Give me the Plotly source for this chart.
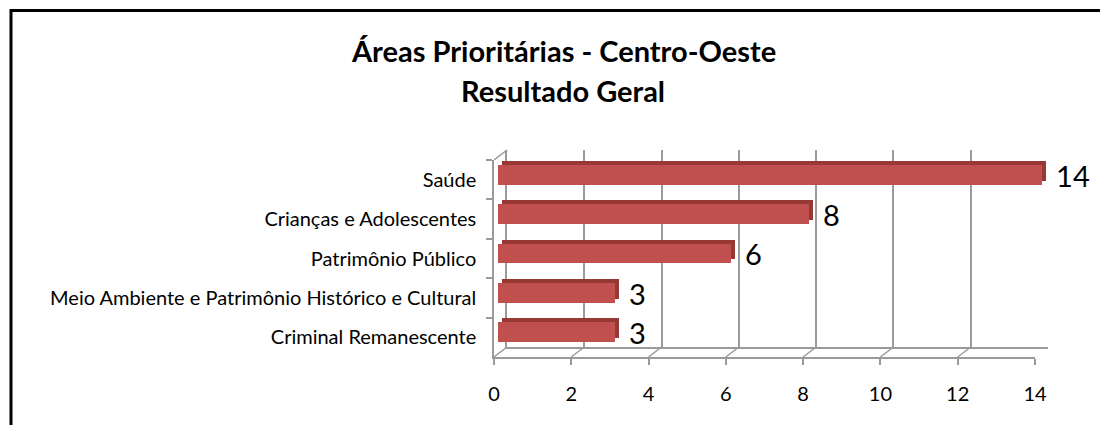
import plotly.graph_objects as go

### Dados ###

areas = ["Saúde", "Crianças e Adolescentes", "Patrimônio Público",
         "Meio Ambiente e Patrimônio Histórico e Cultural", "Criminal Remanescente"]
quantidades = [14, 8, 6, 3, 3]
x_ticks = [0, 2, 4, 6, 8, 10, 12, 14]

titulo_1 = "Áreas Prioritárias - Centro-Oeste"
titulo_2 = "Resultado Geral"

W, H = 1100, 425
FONT = "Lato"
GRID = "#9a9a9a"
FACE = "#C0504D"
DEPTH = "#983835"


def px_x(a, b):  # pixel span -> paper domain (x)
    return [a / W, b / W]


def px_y(top, bottom):  # pixel span -> paper domain (y)
    return [1 - bottom / H, 1 - top / H]


# front plane / back wall (3d look)
front_x, front_y = (494, 1035), (160, 357)
dx, dy = 13, 10
back_x = (front_x[0] + dx, front_x[1] + dx)
back_y = (front_y[0] - dy, front_y[1] - dy)
face_x, face_y = (498, 1042), (155, 352)
depth_x, depth_y = (502, 1046), (151, 348)

cat_range = [len(areas) - 0.5, -0.5]

fig = go.Figure()

# back wall (gridlines only)
fig.add_trace(go.Scatter(x=[None], y=[None], xaxis="x", yaxis="y", showlegend=False, hoverinfo="skip"))
# bar depth (top / side faces)
fig.add_trace(go.Bar(x=quantidades, y=areas, orientation="h", width=0.5, xaxis="x2", yaxis="y2",
                     marker=dict(color=DEPTH, line=dict(width=0)), showlegend=False, hoverinfo="skip"))
# bar front faces + labels
fig.add_trace(go.Bar(x=quantidades, y=areas, orientation="h", width=0.5, xaxis="x3", yaxis="y3",
                     marker=dict(color=FACE, line=dict(width=0)), showlegend=False,
                     text=quantidades, texttemplate=" \u2009%{x}", textposition="outside",
                     textfont=dict(family=FONT, size=29, color="black"),
                     cliponaxis=False, constraintext="none"))
# front axes
fig.add_trace(go.Scatter(x=[None], y=[None], xaxis="x4", yaxis="y4", showlegend=False, hoverinfo="skip"))

hidden = dict(visible=False, fixedrange=True)

fig.update_layout(
    width=W, height=H,
    margin=dict(l=0, r=0, t=0, b=0, autoexpand=False),
    paper_bgcolor="white",
    plot_bgcolor="rgba(0,0,0,0)",
    font=dict(family=FONT, color="black"),
    bargap=0,
    xaxis=dict(domain=px_x(*back_x), range=[0, 14], dtick=2, showgrid=True, gridcolor=GRID,
               gridwidth=1.5, zeroline=False, showline=True, linecolor=GRID, linewidth=1.5,
               showticklabels=False, anchor="y", automargin=False),
    yaxis=dict(domain=px_y(*back_y), type="category", categoryarray=areas, range=cat_range,
               showgrid=False, zeroline=False, showline=True, linecolor=GRID, linewidth=1.5,
               showticklabels=False, anchor="x", automargin=False),
    xaxis2=dict(domain=px_x(*depth_x), range=[0, 14], anchor="y2", **hidden),
    yaxis2=dict(domain=px_y(*depth_y), type="category", categoryarray=areas, range=cat_range,
                anchor="x2", **hidden),
    xaxis3=dict(domain=px_x(*face_x), range=[0, 14], anchor="y3", **hidden),
    yaxis3=dict(domain=px_y(*face_y), type="category", categoryarray=areas, range=cat_range,
                anchor="x3", **hidden),
    xaxis4=dict(domain=px_x(*front_x), range=[0, 14], tickvals=x_ticks, ticks="outside", ticklen=6,
                tickcolor=GRID, tickwidth=1.5, showgrid=False, zeroline=False, showline=True,
                linecolor=GRID, linewidth=1.5, tickfont=dict(family=FONT, size=20, color="black"),
                ticklabelstandoff=12, anchor="y4", automargin=False),
    yaxis4=dict(domain=px_y(*front_y), type="category", categoryarray=areas, range=cat_range,
                tickson="boundaries", ticks="outside", ticklen=6, tickcolor=GRID, tickwidth=1.5,
                showgrid=False, zeroline=False, showline=True, linecolor=GRID, linewidth=1.5,
                tickfont=dict(family=FONT, size=20, color="black"), ticklabelstandoff=12,
                anchor="x4", automargin=False),
)

# floor / side wall diagonals, anchored at the axis values
shapes = []
for v in x_ticks:
    shapes.append(dict(type="line", xref="x4", yref="paper",
                       xsizemode="pixel", xanchor=v, x0=0, x1=dx,
                       ysizemode="pixel", yanchor=1 - front_y[1] / H, y0=0, y1=dy,
                       line=dict(color=GRID, width=1.5), layer="below"))
shapes.append(dict(type="line", xref="x4", yref="paper",
                   xsizemode="pixel", xanchor=0, x0=0, x1=dx,
                   ysizemode="pixel", yanchor=1 - front_y[0] / H, y0=0, y1=dy,
                   line=dict(color=GRID, width=1.5), layer="below"))
# chart frame
shapes.append(dict(type="line", xref="paper", yref="paper", x0=10 / W, x1=1, y0=1 - 10.5 / H, y1=1 - 10.5 / H,
                   line=dict(color="black", width=3)))
shapes.append(dict(type="line", xref="paper", yref="paper", x0=11 / W, x1=11 / W, y0=0, y1=1 - 9 / H,
                   line=dict(color="black", width=3)))
fig.update_layout(shapes=shapes)

fig.add_annotation(text="<b>" + titulo_1 + "</b>", x=563 / W, y=1 - 50 / H, xref="paper", yref="paper",
                   xanchor="center", yanchor="middle", showarrow=False,
                   font=dict(family=FONT, size=29, color="black"))
fig.add_annotation(text="<b>" + titulo_2 + "</b>", x=563 / W, y=1 - 90 / H, xref="paper", yref="paper",
                   xanchor="center", yanchor="middle", showarrow=False,
                   font=dict(family=FONT, size=29, color="black"))

# page has a default 8px body margin; drop it (and any scrollbars) so the figure sits at 0,0
fig.write_html("out.html", config={"displayModeBar": False},
               post_script="document.documentElement.style.overflow='hidden';"
                           "document.body.style.margin='0';document.body.style.overflow='hidden';")
